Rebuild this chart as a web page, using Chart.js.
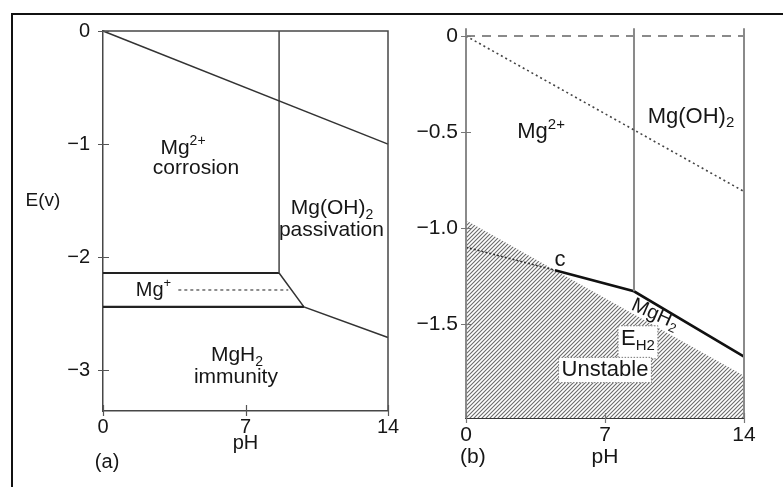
<!DOCTYPE html>
<html>
<head>
<meta charset="utf-8">
<script src="https://cdn.jsdelivr.net/npm/chart.js@4"></script>
<style>
  html, body { margin: 0; padding: 0; background: #fff; }
  body { width: 783px; height: 487px; position: relative; overflow: hidden; }
  canvas { position: absolute; left: 0; top: 0; }
  #frame { position: absolute; left: 11px; top: 13px; width: 800px; height: 500px;
           border-top: 2px solid #111; border-left: 2px solid #111; }
</style>
</head>
<body>
<div id="frame"></div>
<canvas id="chartA" width="783" height="487"></canvas>
<canvas id="chartB" width="783" height="487"></canvas>
<script>
// ---- panel (a): pH vs E(v) ----
const xTicks = [0, 7, 14]
const yTicksA = [0, -1, -2, -3]
const frameA = [[0, 0], [14, 0], [14, -3.36]]
const o2LineA = [[0, 0], [14, -1.0]]
const hydroxideEdgeA = [[8.65, 0], [8.65, -2.14]]
const mg2MgPlusA = [[0, -2.14], [8.65, -2.14]]
const mgPlusHydrideA = [[0, -2.44], [9.87, -2.44]]
const hydroxideLowerA = [[8.65, -2.14], [9.87, -2.44], [14, -2.71]]
const mgPlusDottedA = [[3.7, -2.29], [9.1, -2.29]]

// ---- panel (b) ----
const yTicksB = [0, -0.5, -1.0, -1.5]
const h2DashedB = [[0, 0], [14, 0]]
const o2DottedB = [[0, 0], [14, -0.81]]
const verticalLeftB = [[0, 0.04], [0, -1.99]]
const verticalMidB = [[8.46, 0.04], [8.46, -1.33]]
const verticalRightB = [[14, 0.04], [14, -1.99]]
const unstableEdgeB = [[0, -0.96], [4.48, -1.22], [14, -1.77]]
const mgHydrideB = [[4.48, -1.22], [8.46, -1.33], [14, -1.67]]
const innerDottedB = [[0, -1.10], [4.48, -1.22]]

const FONT = '"Liberation Sans", Arial, Helvetica, sans-serif'
const INK = "#161616"

const pts = arr => arr.map(p => ({ x: p[0], y: p[1] }))

function seg(arr, color, width, dash) {
    return {
        data: pts(arr),
        showLine: true,
        borderColor: color,
        borderWidth: width,
        borderDash: dash || [],
        pointRadius: 0,
        tension: 0,
        fill: false,
        clip: false
    }
}

function hatch() {
    const c = document.createElement("canvas")
    c.width = 4
    c.height = 4
    const g = c.getContext("2d")
    g.fillStyle = "#fff"
    g.fillRect(0, 0, 4, 4)
    g.strokeStyle = "#6a6a6a"
    g.lineWidth = 1.1
    g.beginPath()
    g.moveTo(-1, 5); g.lineTo(5, -1)
    g.moveTo(-1, 1); g.lineTo(1, -1)
    g.moveTo(3, 5); g.lineTo(5, 3)
    g.stroke()
    return g.createPattern(c, "repeat")
}

// text with sub/superscripts, centred at (cx, cy)
function drawRich(ctx, parts, cx, cy, size) {
    const small = Math.round(size * 0.66)
    let total = 0
    const widths = parts.map(p => {
        ctx.font = (p[1] ? small : size) + "px " + FONT
        const w = ctx.measureText(p[0]).width
        total += w
        return w
    })
    let x = cx - total / 2
    ctx.textAlign = "left"
    ctx.textBaseline = "middle"
    parts.forEach((p, i) => {
        ctx.font = (p[1] ? small : size) + "px " + FONT
        let y = cy
        if (p[1] === "sup") y = cy - size * 0.32
        if (p[1] === "sub") y = cy + size * 0.3
        ctx.fillText(p[0], x, y)
        x += widths[i]
    })
    return total
}

const notesPlugin = {
    id: "notes",
    afterDatasetsDraw(chart, args, opts) {
        const { ctx, scales, chartArea } = chart
        ctx.save()
        ctx.fillStyle = INK
        opts.items.forEach(n => {
            const px = n.x !== undefined ? scales.x.getPixelForValue(n.x) : chartArea.left + n.dx
            const py = n.y !== undefined ? scales.y.getPixelForValue(n.y) : chartArea.bottom + n.dy
            ctx.save()
            ctx.translate(px, py)
            if (n.rot) ctx.rotate(n.rot * Math.PI / 180)
            if (n.box) {
                let w = 0
                n.parts.forEach(p => {
                    ctx.font = (p[1] ? Math.round(n.size * 0.66) : n.size) + "px " + FONT
                    w += ctx.measureText(p[0]).width
                })
                const h = n.size * (n.parts.length > 1 ? 1.5 : 1.15)
                const top = -h / 2 + (n.parts.length > 1 ? 3 : 0)
                ctx.fillStyle = "#fff"
                ctx.fillRect(-w / 2 - 3, top, w + 6, h)
                ctx.strokeStyle = "#777"
                ctx.lineWidth = 1
                ctx.setLineDash([1.5, 1.5])
                ctx.strokeRect(-w / 2 - 3, top, w + 6, h)
                ctx.setLineDash([])
                ctx.fillStyle = INK
            }
            drawRich(ctx, n.parts, 0, 0, n.size)
            ctx.restore()
        })
        ctx.restore()
    }
}

const crossTicks = {
    id: "crossTicks",
    afterDraw(chart, args, opts) {
        const { ctx, scales, chartArea } = chart
        ctx.save()
        ctx.strokeStyle = opts.color
        ctx.lineWidth = opts.width
        ctx.beginPath()
        scales.y.ticks.forEach(t => {
            const py = Math.round(scales.y.getPixelForValue(t.value)) + 0.5
            ctx.moveTo(chartArea.left - opts.out, py)
            ctx.lineTo(chartArea.left + opts.in, py)
        })
        scales.x.ticks.forEach(t => {
            const px = Math.round(scales.x.getPixelForValue(t.value)) + 0.5
            ctx.moveTo(px, chartArea.bottom - opts.in)
            ctx.lineTo(px, chartArea.bottom + opts.out)
        })
        ctx.stroke()
        ctx.restore()
    }
}

const minus = v => v === 0 ? "0" : (v < 0 ? "\u2212" : "") + Math.abs(v)

function axes(o) {
    return {
        x: {
            type: "linear", min: 0, max: 14,
            afterBuildTicks: s => { s.ticks = xTicks.map(v => ({ value: v })) },
            afterFit: s => { s.height = o.xh },
            grid: { display: false, drawTicks: false },
            border: o.xBorder,
            ticks: { padding: o.xpad, color: INK, font: { family: FONT, size: o.tick }, callback: v => String(v) }
        },
        y: {
            type: "linear", min: o.ymin, max: 0,
            afterBuildTicks: s => { s.ticks = o.yTicks.map(v => ({ value: v })) },
            afterFit: s => { s.width = o.yw },
            grid: { display: false, drawTicks: false },
            border: o.yBorder,
            ticks: { padding: o.ypad, color: INK, font: { family: FONT, size: o.tick }, callback: o.fmt }
        }
    }
}

const commonPlugins = {
    legend: { display: false },
    tooltip: { enabled: false }
}

// ---------- chart (a) ----------
new Chart(document.getElementById("chartA"), {
    type: "scatter",
    data: {
        datasets: [
            seg(frameA, "#474747", 1.5),
            seg(o2LineA, "#333", 1.5),
            seg(hydroxideEdgeA, "#444", 1.5),
            seg(mg2MgPlusA, "#222", 2.2),
            seg(mgPlusHydrideA, "#222", 2.2),
            seg(hydroxideLowerA, "#333", 1.5),
            seg(mgPlusDottedA, "#444", 1.2, [3, 3])
        ]
    },
    options: {
        responsive: false,
        animation: false,
        events: [],
        layout: { padding: { left: 0, right: 395, top: 31, bottom: 0 } },
        scales: axes({
            xh: 76, yw: 103, ymin: -3.36, yTicks: yTicksA, tick: 20,
            xpad: 4, ypad: 13,
            fmt: v => minus(v),
            xBorder: { display: true, color: "#474747", width: 1.5 },
            yBorder: { display: true, color: "#474747", width: 1.5 }
        }),
        plugins: {
            ...commonPlugins,
            crossTicks: { color: "#555", width: 1.2, in: 6, out: 5 },
            notes: {
                items: [
                    { parts: [["Mg"], ["2+", "sup"]], x: 3.93, y: -1.035, size: 21 },
                    { parts: [["corrosion"]], x: 4.57, y: -1.21, size: 21 },
                    { parts: [["Mg(OH)"], ["2", "sub"]], x: 11.25, y: -1.57, size: 21 },
                    { parts: [["passivation"]], x: 11.22, y: -1.76, size: 21 },
                    { parts: [["Mg"], ["+", "sup"]], x: 2.48, y: -2.29, size: 20 },
                    { parts: [["MgH"], ["2", "sub"]], x: 6.58, y: -2.87, size: 21 },
                    { parts: [["immunity"]], x: 6.53, y: -3.06, size: 21 },
                    { parts: [["E(v)"]], dx: -60, y: -1.5, size: 19 },
                    { parts: [["pH"]], x: 7, dy: 32, size: 20 },
                    { parts: [["(a)"]], x: 0.2, dy: 51, size: 20 }
                ]
            }
        }
    },
    plugins: [notesPlugin, crossTicks]
})

// ---------- chart (b) ----------
const unstableSet = seg(unstableEdgeB, "rgba(0,0,0,0)", 0)
unstableSet.fill = "start"
unstableSet.backgroundColor = hatch()
unstableSet.order = 10

new Chart(document.getElementById("chartB"), {
    type: "scatter",
    data: {
        datasets: [
            unstableSet,
            seg(h2DashedB, "#8a8a8a", 2, [9, 7]),
            seg(o2DottedB, "#444", 1.6, [2, 3]),
            seg(verticalLeftB, "#8a8a8a", 2),
            seg(verticalMidB, "#8a8a8a", 2),
            seg(verticalRightB, "#8a8a8a", 2),
            seg(innerDottedB, "#333", 1.5, [2, 2]),
            seg(mgHydrideB, "#111", 2.6)
        ]
    },
    options: {
        responsive: false,
        animation: false,
        events: [],
        layout: { padding: { left: 0, right: 39, top: 36, bottom: 0 } },
        scales: axes({
            xh: 69, yw: 466, ymin: -1.99, yTicks: yTicksB, tick: 21,
            xpad: 5, ypad: 8,
            fmt: v => v === 0 ? "0" : "\u2212" + Math.abs(v).toFixed(1),
            xBorder: { display: true, color: "#333", width: 2, dash: [2, 1] },
            yBorder: { display: false }
        }),
        plugins: {
            ...commonPlugins,
            crossTicks: { color: "#777", width: 1.2, in: 5, out: 5 },
            notes: {
                items: [
                    { parts: [["Mg"], ["2+", "sup"]], x: 3.78, y: -0.5, size: 22 },
                    { parts: [["Mg(OH)"], ["2", "sub"]], x: 11.33, y: -0.42, size: 22 },
                    { parts: [["c"]], x: 4.73, y: -1.167, size: 22 },
                    { parts: [["MgH"], ["2", "sub"]], x: 9.52, y: -1.45, size: 20, rot: 24 },
                    { parts: [["E"], ["H2", "sub"]], x: 8.66, y: -1.58, size: 22, box: true },
                    { parts: [["Unstable"]], x: 7.0, y: -1.74, size: 22, box: true },
                    { parts: [["pH"]], x: 7, dy: 39, size: 21 },
                    { parts: [["(b)"]], x: 0.35, dy: 39, size: 21 }
                ]
            }
        }
    },
    plugins: [notesPlugin, crossTicks]
})
</script>
</body>
</html>
